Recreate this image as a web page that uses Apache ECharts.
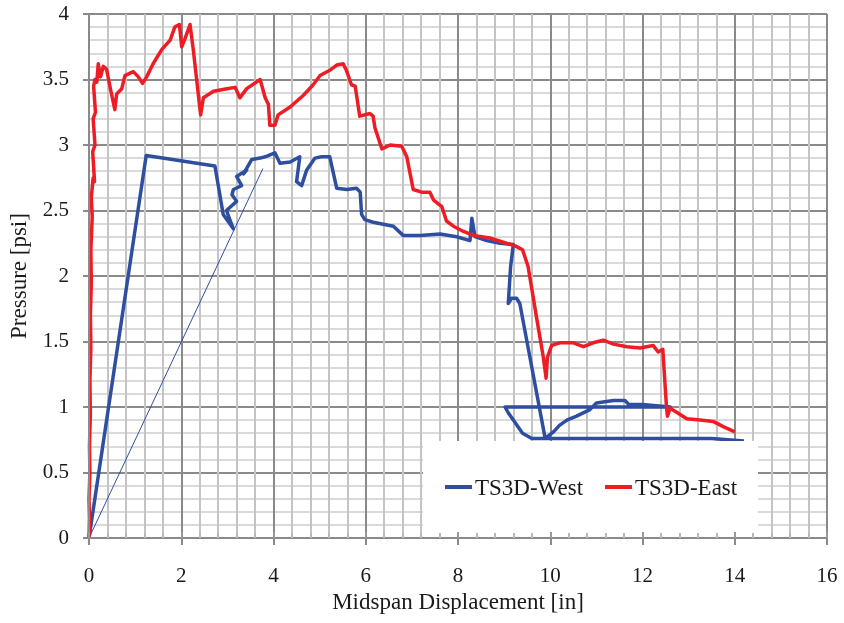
<!DOCTYPE html>
<html><head><meta charset="utf-8">
<script src="https://cdn.jsdelivr.net/npm/echarts@6/dist/echarts.min.js"></script>
<style>html,body{margin:0;padding:0;background:#fff}#c{width:844px;height:623px}</style>
</head><body><div id="c"></div><script>
// Tick labels
const xTicks = [0, 2, 4, 6, 8, 10, 12, 14, 16];
const yTicks = [0, 0.5, 1, 1.5, 2, 2.5, 3, 3.5, 4];
// TS3D-West
const westX = [0,1.24,2.73,2.91,3.13,2.98,3.2,3.1,3.13,3.31,3.2,3.42,3.35,3.53,3.71,3.82,4.03,4.14,4.36,4.57,4.5,4.61,4.72,4.9,5.04,5.22,5.37,5.59,5.8,5.88,5.91,5.98,6.16,6.6,6.81,7.18,7.61,7.97,8.26,8.3,8.37,8.62,8.91,9.2,9.14,9.09,9.16,9.27,9.34,9.89,10.07,10.2,10.36,10.57,10.86,11.0,11.37,11.62,11.7,12.0,12.3,12.6,9.02,9.1,9.2,9.3,9.4,9.6,11.0,13.5,14.2];
const westY = [0,2.92,2.84,2.47,2.36,2.5,2.57,2.62,2.66,2.69,2.76,2.81,2.78,2.89,2.9,2.91,2.94,2.86,2.87,2.91,2.72,2.69,2.81,2.9,2.91,2.91,2.67,2.66,2.67,2.64,2.47,2.43,2.41,2.38,2.31,2.31,2.32,2.3,2.27,2.44,2.3,2.27,2.25,2.24,2.07,1.79,1.83,1.83,1.79,0.76,0.81,0.86,0.9,0.93,0.98,1.03,1.05,1.05,1.02,1.02,1.01,1.0,1.0,0.95,0.9,0.85,0.8,0.76,0.76,0.76,0.74];
// thin West connector
const westThinX = [0, 3.77];
const westThinY = [0, 2.82];
// TS3D-East
const eastX = [0,0.01,0.0,0.02,0.01,0.03,0.02,0.04,0.03,0.05,0.04,0.07,0.05,0.09,0.12,0.08,0.13,0.09,0.14,0.1,0.13,0.17,0.2,0.25,0.31,0.38,0.47,0.56,0.6,0.71,0.78,0.96,1.07,1.16,1.25,1.39,1.58,1.76,1.86,1.96,2.01,2.08,2.19,2.26,2.42,2.48,2.7,2.99,3.17,3.27,3.42,3.71,3.82,3.89,3.92,4.03,4.1,4.36,4.65,4.86,5.01,5.22,5.37,5.51,5.58,5.69,5.77,5.87,6.09,6.16,6.2,6.35,6.53,6.78,6.89,7.03,7.21,7.39,7.47,7.65,7.75,7.9,8.12,8.33,8.69,9.05,9.24,9.4,9.52,9.7,9.85,9.91,9.94,10.03,10.21,10.5,10.72,10.93,11.15,11.37,11.66,11.95,12.23,12.34,12.44,12.52,12.54,12.6,12.74,12.96,13.25,13.53,13.75,14.0];
const eastY = [0,0.15,0.3,0.5,0.7,0.95,1.2,1.45,1.7,1.95,2.2,2.45,2.6,2.75,2.72,2.95,3.0,3.2,3.25,3.45,3.5,3.48,3.62,3.52,3.6,3.58,3.42,3.27,3.39,3.43,3.53,3.56,3.52,3.47,3.52,3.62,3.73,3.8,3.9,3.92,3.75,3.81,3.92,3.73,3.23,3.36,3.41,3.43,3.44,3.36,3.43,3.5,3.36,3.31,3.15,3.15,3.23,3.29,3.38,3.46,3.53,3.57,3.61,3.62,3.57,3.46,3.45,3.22,3.24,3.22,3.13,2.97,3.0,2.99,2.91,2.66,2.64,2.64,2.58,2.53,2.42,2.38,2.34,2.31,2.29,2.25,2.23,2.2,2.07,1.69,1.38,1.22,1.38,1.47,1.49,1.49,1.46,1.49,1.51,1.48,1.46,1.45,1.47,1.42,1.44,1.0,0.93,0.99,0.96,0.91,0.9,0.89,0.85,0.81];
// legend entries
const legendNames = ['TS3D-West', 'TS3D-East'];

const pair = (xs, ys) => xs.map((x, i) => [x, ys[i]]);
const FONT = "'Liberation Serif', 'Times New Roman', serif";
const TXT = '#1a1a1a';
const BLUE = '#2E4FA0';
const RED = '#EE1C25';
const xMin = xTicks[0], xMax = xTicks[xTicks.length - 1], xInt = xTicks[1] - xTicks[0];
const yMin = yTicks[0], yMax = yTicks[yTicks.length - 1], yInt = yTicks[1] - yTicks[0];

// legend drawn as graphic (white box + samples + serif text)
const legendItems = [
  {name: legendNames[0], color: BLUE, x: 445},
  {name: legendNames[1], color: RED, x: 605}
];
const legendGraphic = [{type: 'rect', left: 423, top: 441, z: 3, shape: {width: 335, height: 95}, style: {fill: '#fff'}}];
legendItems.forEach(it => {
  legendGraphic.push({type: 'rect', left: it.x, top: 485, z: 6, shape: {width: 27, height: 4}, style: {fill: it.color}});
  legendGraphic.push({type: 'text', left: it.x + 30, top: 477, z: 6,
    style: {text: it.name, fill: TXT, font: "23px 'Liberation Serif', 'Times New Roman', serif"}});
});

const chart = echarts.init(document.getElementById('c'), null, {renderer: 'canvas'});
const baseX = {type: 'value', min: xMin, max: xMax, interval: xInt};
const baseY = {type: 'value', min: yMin, max: yMax, interval: yInt};
chart.setOption({
  animation: false,
  backgroundColor: '#fff',
  textStyle: {fontFamily: FONT, color: TXT},
  grid: {left: 89, right: 17, top: 14, bottom: 85, containLabel: false},
  graphic: legendGraphic,
  legend: {show: false, data: legendNames},
  xAxis: [
    Object.assign({}, baseX, {position: 'bottom', z: 0,
      axisLine: {show: false}, axisTick: {show: false}, axisLabel: {show: false},
      splitLine: {show: true, lineStyle: {color: '#8a8a8a', width: 2}},
      minorTick: {show: false, splitNumber: 5},
      minorSplitLine: {show: true, lineStyle: {color: '#c4c4c4', width: 2}}}),
    Object.assign({}, baseX, {position: 'bottom', z: 5,
      name: 'Midspan Displacement [in]', nameLocation: 'middle', nameGap: 53,
      nameTextStyle: {fontFamily: FONT, fontSize: 23, color: TXT},
      axisLine: {show: true, lineStyle: {color: '#8a8a8a', width: 2}},
      axisTick: {show: true, length: 7, lineStyle: {color: '#8a8a8a', width: 2}},
      axisLabel: {show: true, margin: 28, fontFamily: FONT, fontSize: 21, color: TXT},
      splitLine: {show: false}}),
    Object.assign({}, baseX, {position: 'bottom', z: 5,
      axisLine: {show: false}, axisLabel: {show: false}, splitLine: {show: false},
      axisTick: {show: true, inside: true, length: 6, lineStyle: {color: '#9a9a9a', width: 2}},
      minorTick: {show: true, splitNumber: 5, length: 5, lineStyle: {color: '#b8b8b8', width: 2}}})
  ],
  yAxis: [
    Object.assign({}, baseY, {position: 'left', z: 0,
      axisLine: {show: false}, axisTick: {show: false}, axisLabel: {show: false},
      splitLine: {show: true, lineStyle: {color: '#8a8a8a', width: 2}},
      minorTick: {show: false, splitNumber: 5},
      minorSplitLine: {show: true, lineStyle: {color: '#dadada', width: 2}}}),
    Object.assign({}, baseY, {position: 'left', z: 5,
      name: 'Pressure [psi]', nameLocation: 'middle', nameGap: 52, nameRotate: 90,
      nameTextStyle: {fontFamily: FONT, fontSize: 23, color: TXT},
      axisLine: {show: true, lineStyle: {color: '#8a8a8a', width: 2}},
      axisTick: {show: true, length: 6, lineStyle: {color: '#8a8a8a', width: 2}},
      axisLabel: {show: true, margin: 20, fontFamily: FONT, fontSize: 21, color: TXT, padding: [7, 0, 0, 0]},
      splitLine: {show: false}})
  ],
  series: [
    {type: 'line', name: legendNames[0], data: pair(westX, westY), xAxisIndex: 0, yAxisIndex: 0,
     symbol: 'none', showSymbol: false, z: 2, lineStyle: {color: BLUE, width: 3.5, join: 'round'}, itemStyle: {color: BLUE}},
    {type: 'line', name: 'West thin', data: pair(westThinX, westThinY), xAxisIndex: 0, yAxisIndex: 0,
     symbol: 'none', showSymbol: false, z: 2, lineStyle: {color: BLUE, width: 1}, itemStyle: {color: BLUE}},
    {type: 'line', name: legendNames[1], data: pair(eastX, eastY), xAxisIndex: 0, yAxisIndex: 0,
     symbol: 'none', showSymbol: false, z: 2, lineStyle: {color: RED, width: 3.5, join: 'round'}, itemStyle: {color: RED}}
  ]
});
</script></body></html>
